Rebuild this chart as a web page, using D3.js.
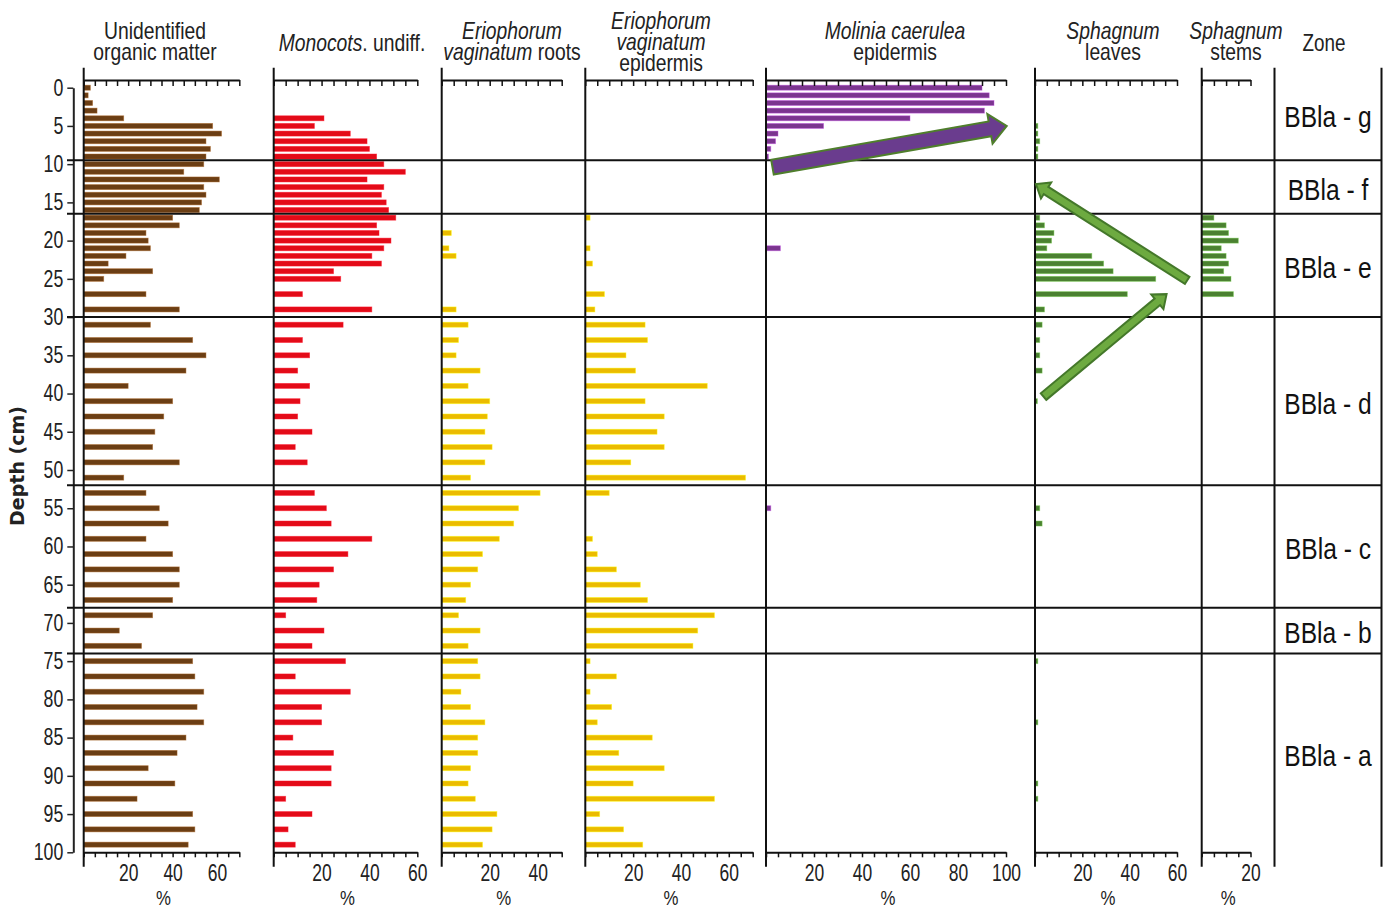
<!DOCTYPE html>
<html>
<head>
<meta charset="utf-8">
<script src="https://cdn.jsdelivr.net/npm/d3@7"></script>
<style>
  html, body { margin: 0; padding: 0; background: #fff; }
  svg { display: block; }
</style>
</head>
<body>
<svg id="chart" width="1389" height="908"></svg>
<script>
// ---------------- DATA ----------------
const depths = [0,1,2,3,4,5,6,7,8,9,10,11,12,13,14,15,16,17,18,19,20,21,22,23,24,25,
  27,29,31,33,35,37,39,41,43,45,47,49,51,53,55,57,59,61,63,65,67,69,71,73,75,77,79,81,83,85,87,89,91,93,95,97,99];

const uom = [3,2,4,6,18,58,62,55,57,55,54,45,61,54,55,53,52,40,43,28,29,30,19,11,31,9,
  28,43,30,49,55,46,20,40,36,32,31,43,18,28,34,38,28,40,43,43,40,31,16,26,49,50,54,51,54,46,42,29,41,24,49,50,47];

const monocots = [0,0,0,0,21,17,32,39,40,43,46,55,39,46,45,47,48,51,43,44,49,46,41,45,25,28,
  12,41,29,12,15,10,15,11,10,16,9,14,0,17,22,24,41,31,25,19,18,5,21,16,30,9,32,20,20,8,25,24,24,5,16,6,9];

const eriRoots = [0,0,0,0,0,0,0,0,0,0,0,0,0,0,0,0,0,0,0,4,0,3,6,0,0,0,
  0,6,11,7,6,16,11,20,19,18,21,18,12,41,32,30,24,17,15,12,10,7,16,11,15,16,8,12,18,15,15,12,11,14,23,21,17];

const eriEpid = [0,0,0,0,0,0,0,0,0,0,0,0,0,0,0,0,0,2,0,0,0,2,0,3,0,0,
  8,4,25,26,17,21,51,25,33,30,33,19,67,10,0,0,3,5,13,23,26,54,47,45,2,13,2,11,5,28,14,33,20,54,6,16,24];

const molinia = [90,93,95,91,60,24,5,4,2,1,0,0,0,0,0,0,0,0,0,0,0,6,0,0,0,0,
  0,0,0,0,0,0,0,0,0,0,0,0,0,0,2,0,0,0,0,0,0,0,0,0,0,0,0,0,0,0,0,0,0,0,0,0,0];

const sphLeaves = [0,0,0,0,0,1.2,1.2,2,1.2,1.2,0,0,0,0,0,0,0,2,4,8,7,5,24,29,33,51,
  39,4,3,2,2,3,0,1,0,0,0,0,0,0,2,3,0,0,0,0,0,0,0,0,1.2,0,0,0,1.2,0,0,0,1.2,1.2,0,0,0];

const sphStems = [0,0,0,0,0,0,0,0,0,0,0,0,0,0,0,0,0,5,10,11,15,8,10,11,9,12,
  13,0,0,0,0,0,0,0,0,0,0,0,0,0,0,0,0,0,0,0,0,0,0,0,0,0,0,0,0,0,0,0,0,0,0,0,0];

const zoneNames = ["BBla - g","BBla - f","BBla - e","BBla - d","BBla - c","BBla - b","BBla - a"];
const zoneBounds = [9.5, 16.5, 30, 52, 68, 74];

const depthTicks = [0,5,10,15,20,25,30,35,40,45,50,55,60,65,70,75,80,85,90,95,100];
const labelsUom = [20,40,60];
const labelsMono = [20,40,60];
const labelsRoots = [20,40];
const labelsEpid = [20,40,60];
const labelsMolinia = [20,40,60,80,100];
const labelsLeaves = [20,40,60];
const labelsStems = [20];

// ---------------- LAYOUT ----------------
const svg = d3.select("#chart");
const FONT = "'Liberation Sans', Arial, Helvetica, sans-serif";
const TXT = "#222";
const y = d3.scaleLinear().domain([0,100]).range([87.7, 852.3]);
const FRAME_TOP = 67.7, FRAME_BOT = 866.7, AX_TOP = 80, AX_BOT = 852.3;

const panels = [
  {values: uom,       color:"#6B3E14", range:[83.7,239.3],  max:70,  labels:labelsUom,     hx:155,  header:[[["Unidentified",0]],[["organic matter",0]]], hy:[39,60]},
  {values: monocots,  color:"#E30B18", range:[273.7,417.3], max:60,  labels:labelsMono,    hx:352,  header:[[["Monocots",1],[". undiff.",0]]], hy:[51]},
  {values: eriRoots,  color:"#EBBB00", range:[441.7,561.7], max:50,  labels:labelsRoots,   hx:512,  header:[[["Eriophorum",1]],[["vaginatum",1],[" roots",0]]], hy:[39,60]},
  {values: eriEpid,   color:"#EBBB00", range:[585.3,752.7], max:70,  labels:labelsEpid,    hx:661,  header:[[["Eriophorum",1]],[["vaginatum",1]],[["epidermis",0]]], hy:[29,50,71]},
  {values: molinia,   color:"#7B358F", range:[766,1006],    max:100, labels:labelsMolinia, hx:895,  header:[[["Molinia caerulea",1]],[["epidermis",0]]], hy:[39,60]},
  {values: sphLeaves, color:"#4B8131", range:[1035,1177],   max:60,  labels:labelsLeaves,  hx:1113, header:[[["Sphagnum",1]],[["leaves",0]]], hy:[39,60]},
  {values: sphStems,  color:"#4B8131", range:[1201.7,1250.5], max:20, labels:labelsStems,  hx:1236, header:[[["Sphagnum",1]],[["stems",0]]], hy:[39,60]},
];
panels.forEach(p => { p.x = d3.scaleLinear().domain([0,p.max]).range(p.range); });

const ZONE_L = 1274.5, ZONE_R = 1381.5;

// ---------- bars ----------
const gBars = svg.append("g");
panels.forEach(p => {
  const data = depths.map((d,i) => ({d, v:p.values[i]})).filter(o => o.v > 0);
  const light = d3.color(p.color).brighter(1.3);
  gBars.append("g").selectAll("rect").data(data).join("rect")
    .attr("x", p.x(0))
    .attr("y", o => y(o.d) - 2.5)
    .attr("width", o => p.x(o.v) - p.x(0))
    .attr("height", 5)
    .attr("fill", p.color)
    .attr("stroke", light).attr("stroke-opacity", 0.55).attr("stroke-width", 0.8);
});

// ---------- panel frames & axes ----------
const gAx = svg.append("g");
panels.forEach(p => {
  const x0 = p.x(0);
  gAx.append("line").attr("x1", x0).attr("x2", x0).attr("y1", FRAME_TOP).attr("y2", FRAME_BOT)
    .attr("stroke", "#111").attr("stroke-width", 2);
  const tv = d3.range(0, p.max + 0.001, 5);
  const top = gAx.append("g").attr("transform", `translate(0,${AX_TOP})`)
    .call(d3.axisTop(p.x).tickValues(tv).tickSize(-6).tickSizeOuter(0).tickFormat(""));
  const bot = gAx.append("g").attr("transform", `translate(0,${AX_BOT})`)
    .call(d3.axisBottom(p.x).tickValues(tv).tickSize(5).tickSizeOuter(0).tickPadding(7)
      .tickFormat(v => p.labels.includes(v) ? String(v) : ""));
  [top, bot].forEach(g => {
    g.select(".domain").attr("stroke", "#111").attr("stroke-width", 2);
    g.selectAll(".tick line").attr("stroke", "#111").attr("stroke-width", 1.5);
  });
  bot.selectAll(".tick text").attr("font-family", FONT).attr("font-size", 23).attr("fill", TXT)
    .attr("transform", "scale(0.76,1)");
  // % label
  gAx.append("text").attr("transform", `translate(${(p.range[0]+p.range[1])/2 + 2},905) scale(0.8,1)`)
    .attr("text-anchor", "middle").attr("font-family", FONT).attr("font-size", 21).attr("fill", TXT)
    .text("%");
  // header
  p.header.forEach((line, li) => {
    const t = gAx.append("text")
      .attr("transform", `translate(${p.hx},${p.hy[li]}) scale(0.84,1)`)
      .attr("text-anchor", "middle").attr("font-family", FONT).attr("font-size", 23).attr("fill", TXT);
    line.forEach(([s, it]) => t.append("tspan").attr("font-style", it ? "italic" : "normal").text(s));
  });
});

// ---------- y axis ----------
const yAx = svg.append("g").attr("transform", "translate(73.3,0)")
  .call(d3.axisLeft(y).tickValues(depthTicks).tickSize(6).tickSizeOuter(0).tickPadding(4));
yAx.select(".domain").attr("stroke", "#222").attr("stroke-width", 2);
yAx.selectAll(".tick line").attr("stroke", "#222").attr("stroke-width", 1.5);
yAx.selectAll(".tick text").attr("font-family", FONT).attr("font-size", 23).attr("fill", TXT)
  .attr("x", -10 / 0.77).attr("transform", "scale(0.77,1)");

svg.append("text").attr("transform", "translate(24,466) rotate(-90)")
  .attr("text-anchor", "middle").attr("font-family", "'DejaVu Sans', sans-serif")
  .attr("font-weight", "bold").attr("font-size", 19).attr("fill", TXT).text("Depth (cm)");

// ---------- zone column ----------
[ZONE_L, ZONE_R].forEach(xx => svg.append("line").attr("x1", xx).attr("x2", xx)
  .attr("y1", FRAME_TOP).attr("y2", FRAME_BOT).attr("stroke", "#111").attr("stroke-width", 2));
svg.append("text").attr("transform", "translate(1324,51) scale(0.82,1)").attr("text-anchor", "middle")
  .attr("font-family", FONT).attr("font-size", 23).attr("fill", TXT).text("Zone");

svg.append("g").selectAll("line").data(zoneBounds).join("line")
  .attr("x1", 67).attr("x2", ZONE_R).attr("y1", d => y(d)).attr("y2", d => y(d))
  .attr("stroke", "#111").attr("stroke-width", 2);

const zoneEdges = [-2.5, ...zoneBounds, 100];
svg.append("g").selectAll("text").data(zoneNames).join("text")
  .attr("transform", (d,i) => `translate(${(ZONE_L+ZONE_R)/2},${y((zoneEdges[i]+zoneEdges[i+1])/2) + 2}) scale(0.82,1)`)
  .attr("text-anchor", "middle").attr("dy", "0.36em")
  .attr("font-family", FONT).attr("font-size", 30).attr("fill", "#111").text(d => d);

// ---------- arrows (annotations, in panel data coords) ----------
const arrows = [
  {panel:4, from:[2.7,10.4], to:[100.3,5.0], shaft:15, head:30, headLen:17, fill:"#6A3C8E", stroke:"#4F7E2C"},
  {panel:5, from:[64.3,25.2], to:[0.4,12.6], shaft:8.5, head:19, headLen:12, fill:"#6DAA40", stroke:"#44782A"},
  {panel:5, from:[3.6,40.4], to:[55.6,27.0], shaft:8.5, head:19, headLen:12, fill:"#6DAA40", stroke:"#44782A"},
];
function arrowPts(a) {
  const p = panels[a.panel];
  const x1 = p.x(a.from[0]), y1 = y(a.from[1]), x2 = p.x(a.to[0]), y2 = y(a.to[1]);
  const dx = x2 - x1, dy = y2 - y1, L = Math.hypot(dx, dy);
  const ux = dx / L, uy = dy / L, nx = -uy, ny = ux;
  const bx = x2 - ux * a.headLen, by = y2 - uy * a.headLen;
  const s = a.shaft / 2, h = a.head / 2;
  return [
    [x1 + nx*s, y1 + ny*s], [bx + nx*s, by + ny*s], [bx + nx*h, by + ny*h], [x2, y2],
    [bx - nx*h, by - ny*h], [bx - nx*s, by - ny*s], [x1 - nx*s, y1 - ny*s]
  ];
}
svg.append("g").selectAll("polygon").data(arrows).join("polygon")
  .attr("points", a => arrowPts(a).map(q => q.join(",")).join(" "))
  .attr("fill", a => a.fill).attr("stroke", a => a.stroke).attr("stroke-width", 2)
  .attr("stroke-linejoin", "miter");
</script>
</body>
</html>
